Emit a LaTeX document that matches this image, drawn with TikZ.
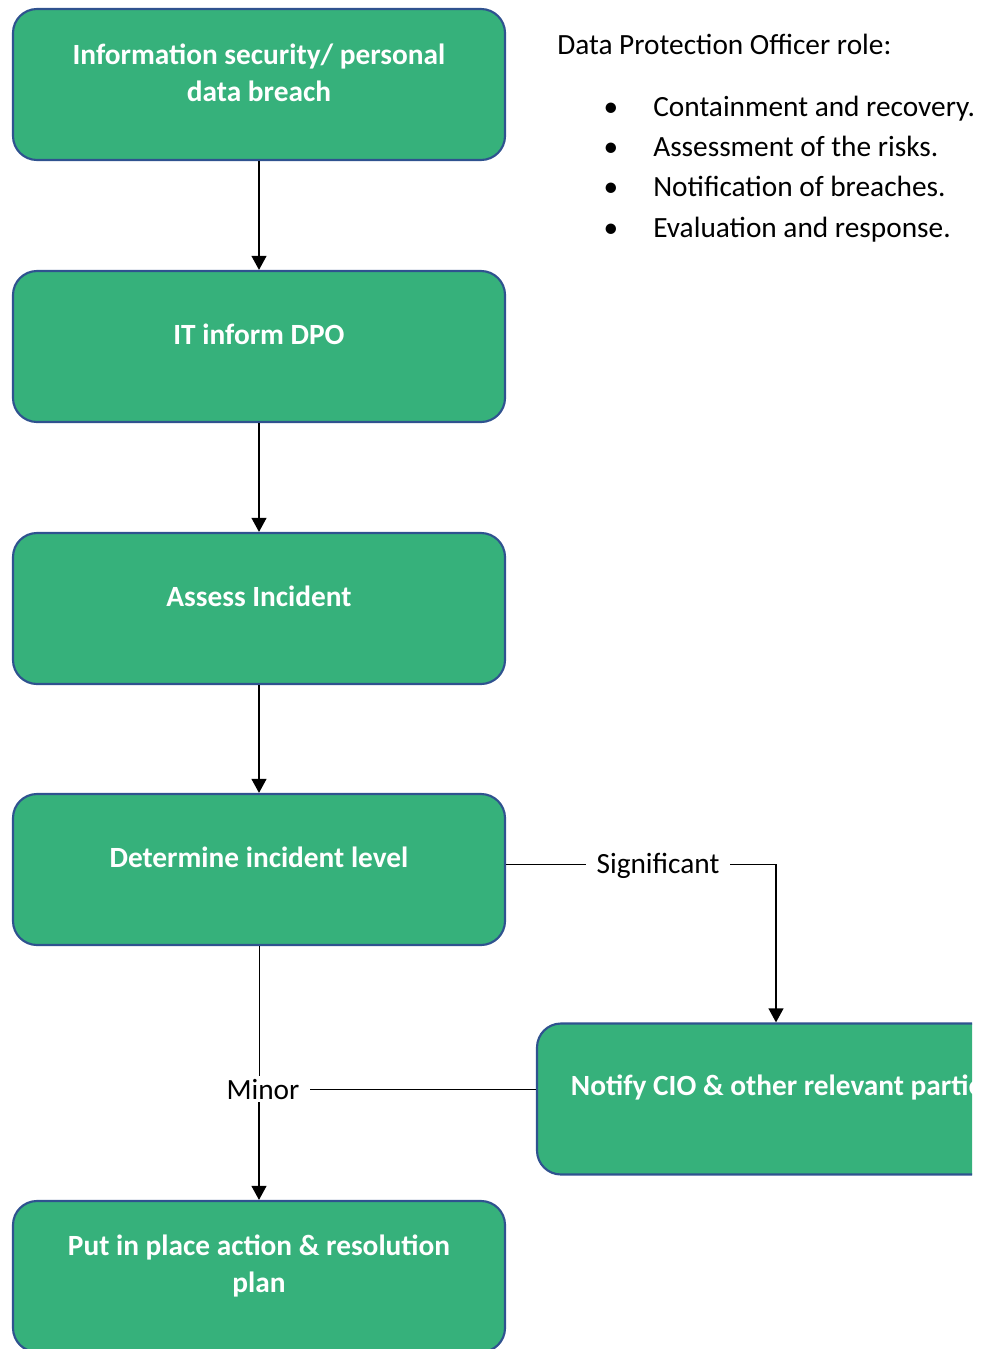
\documentclass[tikz,border=0pt]{standalone}
\usepackage{fontspec}
\setmainfont{Carlito}
\usetikzlibrary{arrows.meta}
\definecolor{boxgreen}{RGB}{54,177,123}
\definecolor{boxblue}{RGB}{47,82,143}
\begin{document}
\begin{tikzpicture}[x=0.75pt,y=-0.75pt,
  box/.style={draw=boxblue,line width=1.6pt,fill=boxgreen,rounded corners=18pt,
    minimum width=369pt,minimum height=113.25pt,inner sep=0pt},
  btext/.style={text=white,font=\bfseries\fontsize{22}{27.75}\selectfont,align=center,inner sep=0pt},
  arr/.style={line width=1.5pt,-{Triangle[length=10.5pt,width=11pt]}},
  thinline/.style={line width=0.75pt},
  lab/.style={font=\fontsize{22}{26}\selectfont,inner xsep=8pt,inner ysep=2pt},
  rtext/.style={font=\fontsize{22}{26}\selectfont,inner sep=0pt,anchor=base west}]
\useasboundingbox (0,0) rectangle (987,1349);
\begin{scope}
\clip (0,0) rectangle (972,1349);
\node[box] (b1) at (259,84.5) {};
\node[box] (b2) at (259,346.5) {};
\node[box] (b3) at (259,608.5) {};
\node[box] (b4) at (259,869.5) {};
\node[box] (b5) at (783,1099) {};
\node[box] (b6) at (259,1276.5) {};
\node[btext] (t1) at ([yshift=9pt]b1.center) {Information security/ personal\\data breach};
\node[btext] (t2) at ([yshift=9pt]b2.center) {IT inform DPO};
\node[btext] (t3) at ([yshift=9pt]b3.center) {Assess Incident};
\node[btext] (t4) at ([yshift=9pt]b4.center) {Determine incident level};
\node[btext] (t5) at ([yshift=9pt]b5.center) {Notify CIO \& other relevant parties};
\node[btext] (t6) at ([yshift=8pt]b6.center) {Put in place action \& resolution\\plan};

\draw[arr] (b1.south) -- (b2.north);
\draw[arr] (b2.south) -- (b3.north);
\draw[arr] (b3.south) -- (b4.north);

\node[lab] (sig) at (658,866) {Significant};
\coordinate (sigturn) at (776,864);
\draw[thinline] (b4.east |- sigturn) -- (sig.west |- sigturn);
\draw[thinline] (sig.east |- sigturn) -- (sigturn);
\draw[arr] (sigturn) -- (sigturn |- b5.north);

\node[lab] (minor) at (263,1089) {Minor};
\draw[thinline] (b4.south) -- (b4.south |- minor.north);
\draw[thinline] (minor.east) -- (minor.east -| b5.west);
\draw[arr] (b4.south |- minor.south) -- (b6.north);

\node[rtext] (title) at (557,54) {Data Protection Officer role:};
\node[rtext] (i1) at (653,116) {Containment and recovery.};
\node[rtext] (i2) at (653,156) {Assessment of the risks.};
\node[rtext] (i3) at (653,196) {Notification of breaches.};
\node[rtext] (i4) at (653,237) {Evaluation and response.};
\foreach \i in {1,...,4} \node[rtext,anchor=base] (d\i) at (611,0 |- i\i.base) {•};
\end{scope}
\end{tikzpicture}
\end{document}
